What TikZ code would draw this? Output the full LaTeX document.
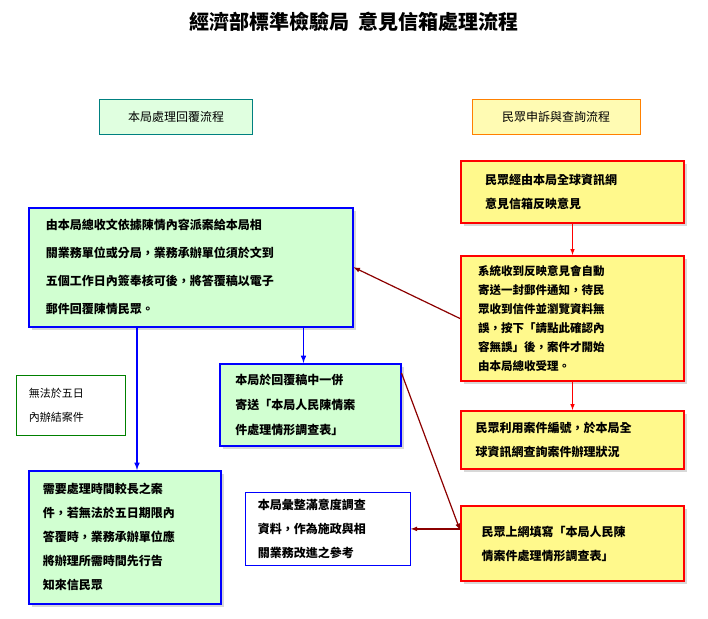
\documentclass[tikz,border=0pt]{standalone}
\usepackage{fontspec}
\newfontfamily\cjk{Noto Sans CJK TC}
\usetikzlibrary{arrows, shadows}

\tikzset{
  redbox/.style={draw=red, line width=2pt, fill=yellow!45, anchor=north west, align=left,
    drop shadow={shadow xshift=3pt, shadow yshift=-3pt, fill=gray!60}, inner sep=0pt},
  greenbox/.style={draw=blue, line width=1.5pt, fill=green!18, anchor=north west, align=left,
    drop shadow={shadow xshift=3pt, shadow yshift=-3pt, fill=gray!60}, inner sep=0pt},
  headbox/.style={draw, line width=0.8pt, anchor=center, font=\cjk\fontsize{12}{14}\selectfont},
  redarr/.style={->, >=latex, red, line width=1pt},
  bluearr/.style={->, >=latex, blue, line width=1.5pt},
  darkarr/.style={->, >=latex, red!55!black, line width=1.2pt}
}

\begin{document}
\begin{tikzpicture}[x=1pt, y=-1pt, font=\cjk\bfseries]

\useasboundingbox (0,0) rectangle (708,618);

\node (title) at (354,22) {\fontsize{20}{24}\selectfont 經濟部標準檢驗局\ \ 意見信箱處理流程};

\node[headbox, fill=green!12, draw=teal, minimum width=153pt, minimum height=35pt] (hleft) at (176,117) {本局處理回覆流程};
\node[headbox, fill=yellow!30, draw=orange, minimum width=168pt, minimum height=35pt] (hright) at (556,117) {民眾申訴與查詢流程};

% right column
\node[redbox, minimum width=223pt, minimum height=62pt, text width=195pt, font=\cjk\bfseries\fontsize{12}{24}\selectfont] (mail) at (460,160) {\hspace*{10pt}民眾經由本局全球資訊網\\\hspace*{10pt}意見信箱反映意見};
\node[redbox, minimum width=223pt, minimum height=125pt, text width=205pt, font=\cjk\bfseries\fontsize{11.5}{19}\selectfont] (auto) at (460,255) {\hspace*{8pt}系統收到反映意見會自動\\\hspace*{8pt}寄送一封郵件通知，待民\\\hspace*{8pt}眾收到信件並瀏覽資料無\\\hspace*{8pt}誤，按下「請點此確認內\\\hspace*{8pt}容無誤」後，案件才開始\\\hspace*{8pt}由本局總收受理。};
\node[redbox, minimum width=223pt, minimum height=58pt, text width=210pt, font=\cjk\bfseries\fontsize{12}{24}\selectfont] (query) at (460,410) {\hspace*{8pt}民眾利用案件編號，於本局全\\\hspace*{8pt}球資訊網查詢案件辦理狀況};
\node[redbox, minimum width=223pt, minimum height=75pt, text width=210pt, font=\cjk\bfseries\fontsize{12}{24}\selectfont] (survey) at (460,505) {\hspace*{14pt}民眾上網填寫「本局人民陳\\\hspace*{14pt}情案件處理情形調查表」};

% left column
\node[greenbox, minimum width=324pt, minimum height=119pt, text width=310pt, font=\cjk\bfseries\fontsize{12}{28}\selectfont] (assign) at (28,207) {\hspace*{10pt}由本局總收文依據陳情內容派案給本局相\\\hspace*{10pt}關業務單位或分局，業務承辦單位須於文到\\\hspace*{10pt}五個工作日內簽奉核可後，將答覆稿以電子\\\hspace*{10pt}郵件回覆陳情民眾。};
\node[greenbox, minimum width=181pt, minimum height=82pt, text width=170pt, font=\cjk\bfseries\fontsize{12}{25}\selectfont] (enclose) at (219,363) {\hspace*{10pt}本局於回覆稿中一併\\\hspace*{10pt}寄送「本局人民陳情案\\\hspace*{10pt}件處理情形調查表」};
\node[draw=green!50!black, line width=0.8pt, anchor=north west, minimum width=109pt, minimum height=60pt, text width=100pt, inner sep=0pt, align=left, font=\cjk\fontsize{11}{24}\selectfont] (late) at (16,375) {\hspace*{8pt}無法於五日\\\hspace*{8pt}內辦結案件};
\node[greenbox, minimum width=192pt, minimum height=133pt, text width=180pt, font=\cjk\bfseries\fontsize{12}{24}\selectfont] (extend) at (28,470) {\hspace*{8pt}需要處理時間較長之案\\\hspace*{8pt}件，若無法於五日期限內\\\hspace*{8pt}答覆時，業務承辦單位應\\\hspace*{8pt}將辦理所需時間先行告\\\hspace*{8pt}知來信民眾};
\node[draw=blue, line width=0.8pt, fill=white, anchor=north west, minimum width=165pt, minimum height=73pt, text width=160pt, inner sep=0pt, align=left, font=\cjk\bfseries\fontsize{12}{24}\selectfont] (stats) at (245,492) {\hspace*{10pt}本局彙整滿意度調查\\\hspace*{10pt}資料，作為施政與相\\\hspace*{10pt}關業務改進之參考};

% connectors
\coordinate (split) at ([xshift=-50pt]assign.south east);
\draw[bluearr] (split) -- (split |- enclose.north);
\draw[bluearr] ([xshift=109pt]assign.south west) -- ([xshift=109pt]extend.north west);
\draw[redarr] (mail.south) -- (auto.north);
\draw[redarr] (auto.south) -- (query.north);
\draw[darkarr] (auto.west) -- (assign.east);
\draw[darkarr] ([yshift=-10pt]enclose.north east) -- ([yshift=-25pt]survey.north west);
\draw[darkarr] (survey.west |- stats.east) -- (stats.east);

\end{tikzpicture}
\end{document}
